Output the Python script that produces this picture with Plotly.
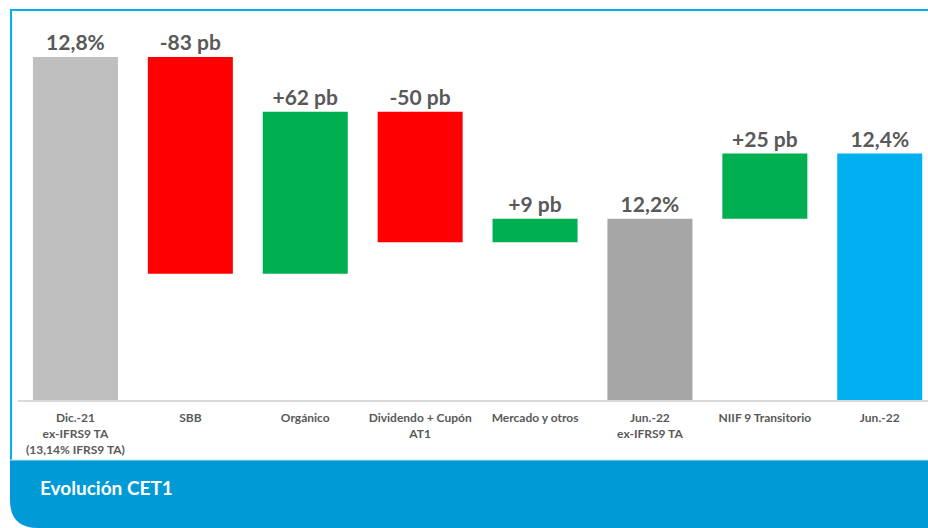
import plotly.graph_objects as go

# ---- data ----
categories = [
    "Dic.-21<br>ex-IFRS9 TA<br>(13,14% IFRS9 TA)",
    "SBB",
    "Orgánico",
    "Dividendo + Cupón<br>AT1",
    "Mercado y otros",
    "Jun.-22<br>ex-IFRS9 TA",
    "NIIF 9 Transitorio",
    "Jun.-22",
]
measures = ["absolute", "relative", "relative", "relative", "relative", "total", "relative", "total"]
values = [12.8, -0.83, 0.62, -0.50, 0.09, None, 0.25, None]   # % / pb/100
labels = ["12,8%", "-83 pb", "+62 pb", "-50 pb", "+9 pb", "12,2%", "+25 pb", "12,4%"]
colors = ["#BFBFBF", "#FF0000", "#00B050", "#FF0000", "#00B050", "#A6A6A6", "#00B050", "#00B0F0"]

# ---- waterfall geometry from the values ----
bases, heights = [], []
level = 0.0
for m, v in zip(measures, values):
    if m == "absolute":
        bases.append(0.0); heights.append(v); level = v
    elif m == "total":
        bases.append(0.0); heights.append(level)
    else:
        new = level + v
        bases.append(min(level, new)); heights.append(abs(v)); level = new

W, H = 928, 528
L, R, T, B = 18, 0, 20, 128
pw, ph = W - L - R, H - T - B
ppu = 261.0  # pixels per 1 %
y0 = 11.486
y1 = y0 + ph / ppu
cat_px = 114.9
xr = [-0.5, -0.5 + pw / cat_px]

fig = go.Figure(go.Bar(
    x=list(range(len(categories))),
    y=heights,
    base=bases,
    marker=dict(color=colors, line=dict(width=0)),
    width=0.74,
    text=[f"<b>{t}</b>" for t in labels],
    textposition="outside",
    textfont=dict(family="Lato", size=21, color="#595959"),
    cliponaxis=False,
    hoverinfo="skip",
))

def px_x(p):
    return (p - L) / pw

def px_y(p):
    return (H - B - p) / ph

shapes = []
# frame lines (top & left)
shapes.append(dict(type="line", xref="paper", yref="paper",
                   x0=px_x(10), x1=px_x(W), y0=px_y(10), y1=px_y(10),
                   line=dict(color="#00B0F0", width=2)))
shapes.append(dict(type="line", xref="paper", yref="paper",
                   x0=px_x(11), x1=px_x(11), y0=px_y(10), y1=px_y(462),
                   line=dict(color="#00B0F0", width=2)))
# bottom banner with rounded bottom-left corner
r = 28
path = (f"M {px_x(10)},{px_y(460)} L {px_x(W)},{px_y(460)} L {px_x(W)},{px_y(H)} "
        f"L {px_x(10 + r)},{px_y(H)} Q {px_x(10)},{px_y(H)} {px_x(10)},{px_y(H - r)} Z")
shapes.append(dict(type="path", xref="paper", yref="paper", path=path,
                   fillcolor="#009AD7", line=dict(width=0), layer="above"))
shapes.append(dict(type="line", xref="paper", yref="paper",
                   x0=px_x(10), x1=px_x(W), y0=px_y(460), y1=px_y(460),
                   line=dict(color="#BFE3F4", width=1)))

fig.update_layout(
    width=W, height=H,
    margin=dict(l=L, r=R, t=T, b=B),
    paper_bgcolor="white", plot_bgcolor="white",
    showlegend=False,
    shapes=shapes,
    xaxis=dict(
        range=xr, tickmode="array", tickvals=list(range(len(categories))),
        ticktext=[f"<b>{c}</b>" for c in categories],
        tickfont=dict(family="Lato", size=12, color="#595959"),
        showline=True, linecolor="#D9D9D9", linewidth=2,
        showgrid=False, zeroline=False, ticks="", ticklabelstandoff=6,
        fixedrange=True,
    ),
    yaxis=dict(range=[y0, y1], visible=False, showgrid=False, zeroline=False,
               fixedrange=True),
    annotations=[dict(
        text="<b>Evolución CET1</b>", xref="paper", yref="paper",
        x=px_x(38), y=px_y(487), xanchor="left", yanchor="middle",
        showarrow=False, font=dict(family="Lato", size=19, color="white"),
    )],
)

fig.write_html(
    "out.html",
    config={"displayModeBar": False},
    post_script="document.body.style.margin='0';document.body.style.overflow='hidden';",
)
